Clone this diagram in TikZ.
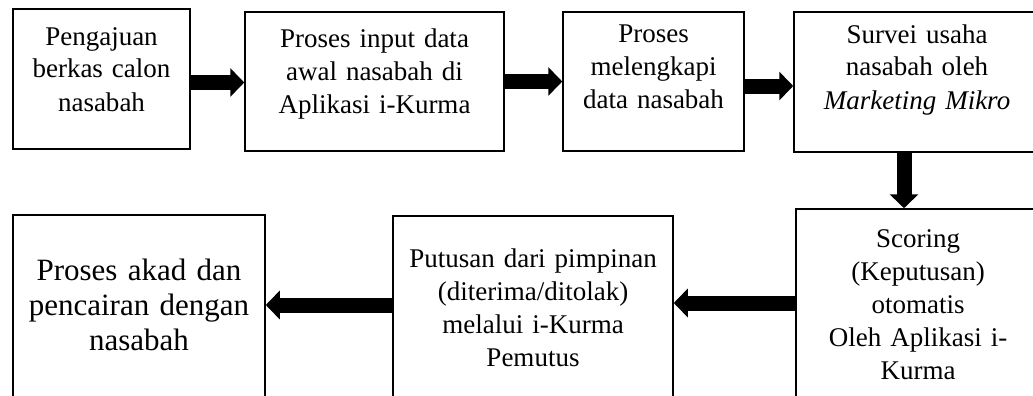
\documentclass[tikz,border=0pt]{standalone}
\usepackage{fontspec}
\setmainfont{Liberation Serif}
\usetikzlibrary{arrows.meta}

\begin{document}
\begin{tikzpicture}[
    x=0.5pt, y=-0.5pt,
    box/.style={draw, line width=0.75pt, inner sep=0pt, align=center, font=\fontsize{13.5}{16.5}\selectfont},
    arr/.style={-{Triangle[length=7pt, width=14pt]}, line width=7.5pt}
]
    \path[use as bounding box] (0,0) rectangle (1033,396);
    \clip (0,0) rectangle (1033,396);
    % baris atas
    \node[box, minimum width=88.5pt, text width=84pt, text height=18pt, text depth=52pt] (berkas) at (101.5,79) {Pengajuan\\ berkas calon\\ nasabah};
    \node[box, minimum width=129.5pt, text width=124pt, text height=17.5pt, text depth=52pt] (input) at (374.5,81.5) {Proses input data\\ awal nasabah di\\ Aplikasi i-Kurma};
    \node[box, minimum width=90.5pt, text width=86pt, text height=15pt, text depth=54.5pt] (lengkap) at (653.5,81.5) {Proses\\ melengkapi\\ data nasabah};
    \node[box, minimum width=123pt, text width=100pt, text height=15.5pt, text depth=54.5pt] (survei) at (917,82) {Survei usaha\\ nasabah oleh\\ \textit{Marketing Mikro}};
    % baris bawah
    \node[box, minimum width=122pt, text width=100pt, text height=19pt, text depth=78.5pt] (scoring) at (918,306.5) {Scoring\\ (Keputusan)\\ otomatis\\ Oleh Aplikasi i-\\ Kurma};
    \node[box, minimum width=140pt, text width=134pt, text height=25.5pt, text depth=68.5pt] (putusan) at (533,310) {Putusan dari pimpinan\\ (diterima/ditolak)\\ melalui i-Kurma\\ Pemutus};
    \node[box, minimum width=126pt, text width=120pt, text height=32.5pt, text depth=62pt, font=\fontsize{15.5}{17.5}\selectfont] (akad) at (139,309.5) {Proses akad dan\\ pencairan dengan\\ nasabah};
    \draw[arr] ([yshift=-1.75pt]berkas.east) -- ([yshift=-1.75pt]berkas.east -| input.west);
    \draw[arr] (input.east) -- (lengkap.west);
    \draw[arr] ([yshift=-2.25pt]lengkap.east) -- ([yshift=-2.25pt]lengkap.east -| survei.west);
    \draw[arr] ([xshift=-6.5pt]survei.south) -- ([xshift=-6.5pt]survei.south |- scoring.north);
    \draw[arr] ([yshift=1.75pt]scoring.west) -- ([yshift=1.75pt]scoring.west -| putusan.east);
    \draw[arr] ([yshift=2.5pt]putusan.west) -- ([yshift=2.5pt]putusan.west -| akad.east);
\end{tikzpicture}
\end{document}
